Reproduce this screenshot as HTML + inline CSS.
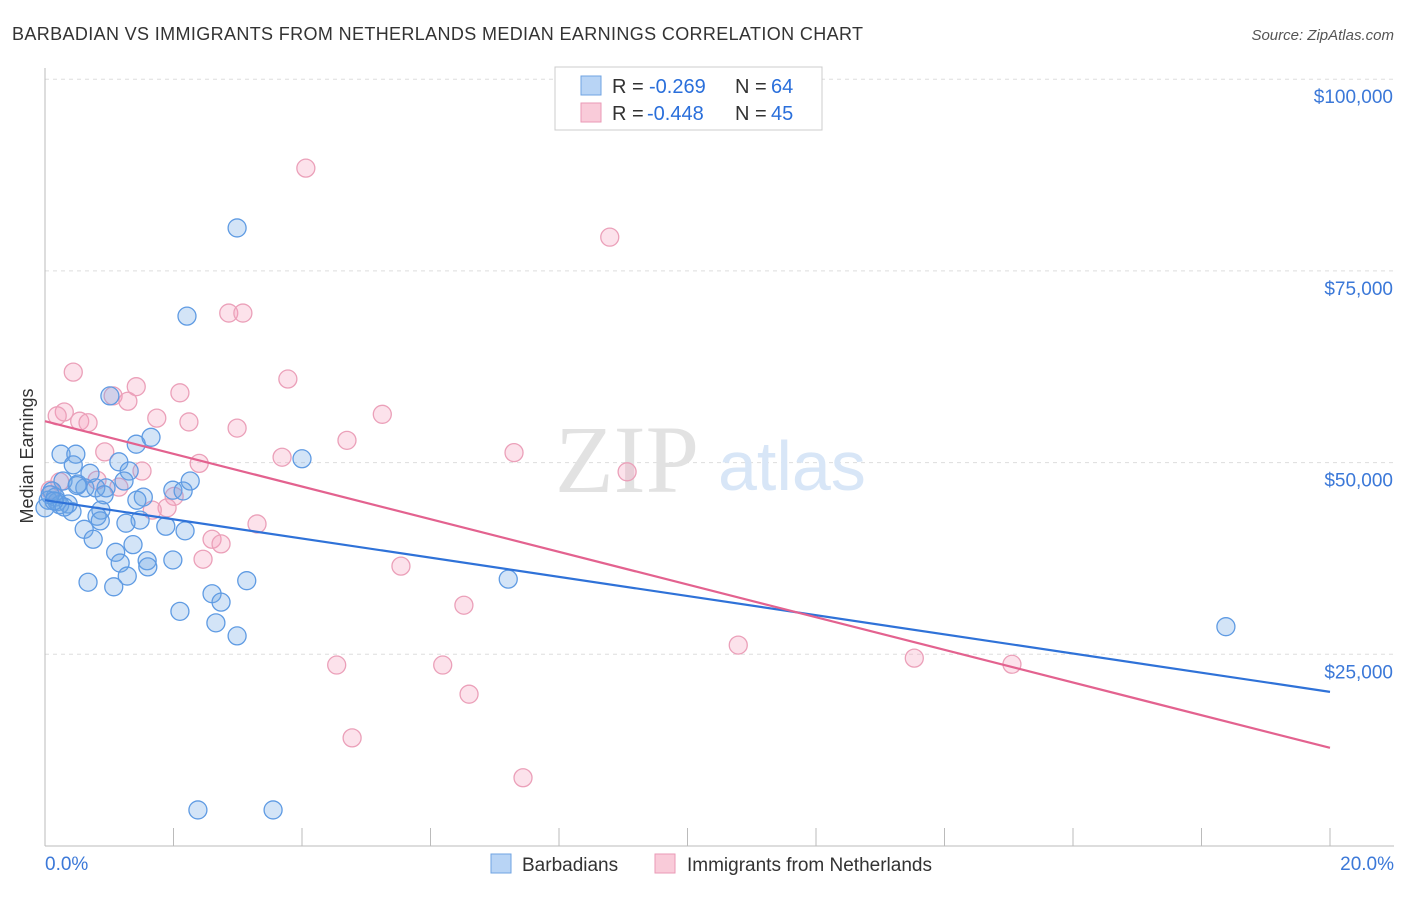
<!DOCTYPE html>
<html><head><meta charset="utf-8"><style>
body{margin:0;background:#fff;font-family:"Liberation Sans",sans-serif}
</style></head><body>
<svg id="c" width="1406" height="892" xmlns="http://www.w3.org/2000/svg" style="font-family:'Liberation Sans',sans-serif">
<text x="12" y="40" font-size="18" fill="#333" textLength="851" lengthAdjust="spacing">BARBADIAN VS IMMIGRANTS FROM NETHERLANDS MEDIAN EARNINGS CORRELATION CHART</text>
<text x="1394" y="40" font-size="15" fill="#555" font-style="italic" text-anchor="end">Source: ZipAtlas.com</text>
<text x="33" y="456" font-size="18" fill="#333" text-anchor="middle" transform="rotate(-90 33 456)">Median Earnings</text>
<g id="grid"></g>
<g id="axes"></g>
<text x="555" y="492" font-size="96" fill="#e2e2e2" font-family="'Liberation Serif',serif">ZIP</text>
<text x="718" y="490" font-size="70" fill="#d8e6f7">atlas</text>
<g id="pts"></g>
<g id="lines"></g>
<g font-size="20">
<rect x="555" y="67" width="267" height="63" fill="#fff" stroke="#ccc"/>
<rect x="581" y="76" width="20" height="19" fill="#b8d4f5" stroke="#6fa3e2"/>
<rect x="581" y="103" width="20" height="19" fill="#f9cbd9" stroke="#ea9ab6"/>
<text x="612" y="93" fill="#333">R =</text><text x="649" y="93" fill="#2a6fdb">-0.269</text>
<text x="735" y="93" fill="#333">N =</text><text x="771" y="93" fill="#2a6fdb">64</text>
<text x="612" y="120" fill="#333">R =</text><text x="647" y="120" fill="#2a6fdb">-0.448</text>
<text x="735" y="120" fill="#333">N =</text><text x="771" y="120" fill="#2a6fdb">45</text>
</g>
<g>
<rect x="491" y="854" width="20" height="19" fill="#b8d4f5" stroke="#6fa3e2"/>
<text x="522" y="871" font-size="19" fill="#333">Barbadians</text>
<rect x="655" y="854" width="20" height="19" fill="#f9cbd9" stroke="#ea9ab6"/>
<text x="687" y="871" font-size="19" fill="#333">Immigrants from Netherlands</text>
</g>
</svg>
<script>
const blueX=[2.99,2.21,1.01,1.65,1.42,4.0,0.25,0.48,0.44,1.15,1.31,0.70,1.23,2.26,0.28,0.51,0.62,0.95,0.79,0.11,1.99,2.15,1.53,0.92,1.43,0.16,0.05,0.19,0.36,0.23,0.87,0.42,0.81,1.48,1.26,0.86,1.88,0.61,2.18,0.75,1.37,1.10,1.99,1.59,1.17,1.60,1.28,3.14,7.21,0.67,1.07,2.60,2.74,2.10,2.66,2.99,18.38,2.38,3.55,0.0,0.08,0.3,0.5,0.14];
const blueY=[80.6,69.1,58.7,53.3,52.4,50.5,51.1,51.1,49.7,50.1,48.9,48.6,47.6,47.6,47.6,47.2,46.7,46.7,46.7,46.3,46.4,46.3,45.5,45.8,45.1,45.5,45.1,44.9,44.6,44.5,43.8,43.6,43.0,42.5,42.1,42.4,41.7,41.3,41.1,40.0,39.3,38.3,37.3,37.2,36.9,36.4,35.2,34.6,34.8,34.4,33.8,32.9,31.8,30.6,29.1,27.4,28.6,4.7,4.7,44.1,45.8,44.2,47.0,45.0];
const pinkX=[4.06,8.79,2.86,3.08,0.44,3.78,1.42,2.10,1.06,1.29,0.30,0.19,5.25,1.74,0.54,0.67,2.24,2.99,4.70,0.93,7.30,3.69,2.40,1.51,9.06,0.81,0.23,1.15,0.08,2.01,1.90,1.67,3.30,2.60,2.74,2.46,5.54,6.52,10.79,13.53,15.05,4.54,6.19,6.60,4.78,7.44];
const pinkY=[88.4,79.4,69.5,69.5,61.8,60.9,59.9,59.1,58.7,58.0,56.6,56.1,56.3,55.8,55.4,55.2,55.3,54.5,52.9,51.4,51.3,50.7,49.9,48.9,48.8,47.7,47.5,46.8,46.4,45.6,44.1,43.8,42.0,40.0,39.4,37.4,36.5,31.4,26.2,24.5,23.7,23.6,23.6,19.8,14.1,8.9];
const trendStart=[45.1,55.4];
const trendEnd=[20.1,12.8];
const yTicks=[25,50,75,100];
const yTickLabels=["$25,000","$50,000","$75,000","$100,000"];
const xTicks=[0,2,4,6,8,10,12,14,16,18,20];
const NS="http://www.w3.org/2000/svg";
const X=v=>45+v/20*1285;
const Y=v=>846-v*7.668;
function mk(t,a,p){const e=document.createElementNS(NS,t);for(const k in a)e.setAttribute(k,a[k]);p.appendChild(e);return e;}
const grid=document.getElementById('grid'),axes=document.getElementById('axes');
yTicks.forEach((t,i)=>{
 const l=mk('line',{x1:45,x2:1394,y1:Y(t),y2:Y(t),stroke:'#ddd','stroke-dasharray':'4,4'},grid);
 
 
 const tx=mk('text',{x:1393,y:Y(t)+24,'font-size':19,fill:'#3b78d8','text-anchor':'end'},axes);
 tx.textContent=yTickLabels[i];
 
 
});
mk('line',{x1:45,x2:45,y1:68,y2:846,stroke:'#bbb'},axes);
mk('line',{x1:45,x2:1394,y1:846,y2:846,stroke:'#bbb'},axes);
xTicks.forEach(t=>{
 const l=mk('line',{x1:X(t),x2:X(t),y1:828,y2:846,stroke:'#bbb'},axes);
 
 
});
const xl=mk('text',{x:45,y:870,'font-size':19,fill:'#3b78d8'},axes);xl.textContent='0.0%';


const xr=mk('text',{x:1394,y:870,'font-size':19,fill:'#3b78d8','text-anchor':'end'},axes);xr.textContent='20.0%';


const pts=document.getElementById('pts');
pinkX.forEach((x,i)=>{
 const c=mk('circle',{cx:X(x),cy:Y(pinkY[i]),r:9,fill:'rgba(244,160,188,0.3)',stroke:'#eba0b9','stroke-width':1.3},pts);
 
 
});
blueX.forEach((x,i)=>{
 const c=mk('circle',{cx:X(x),cy:Y(blueY[i]),r:9,fill:'rgba(110,165,230,0.3)',stroke:'#5f9be3','stroke-width':1.3},pts);
 
 
});
const lines=document.getElementById('lines');
const cols=['#2f72d8','#e3628f'];
[0,1].forEach(i=>{
 const l=mk('line',{x1:X(0),y1:Y(trendStart[i]),x2:X(20),y2:Y(trendEnd[i]),stroke:cols[i],'stroke-width':2.2},lines);
 
 
});
</script>
</body></html>
